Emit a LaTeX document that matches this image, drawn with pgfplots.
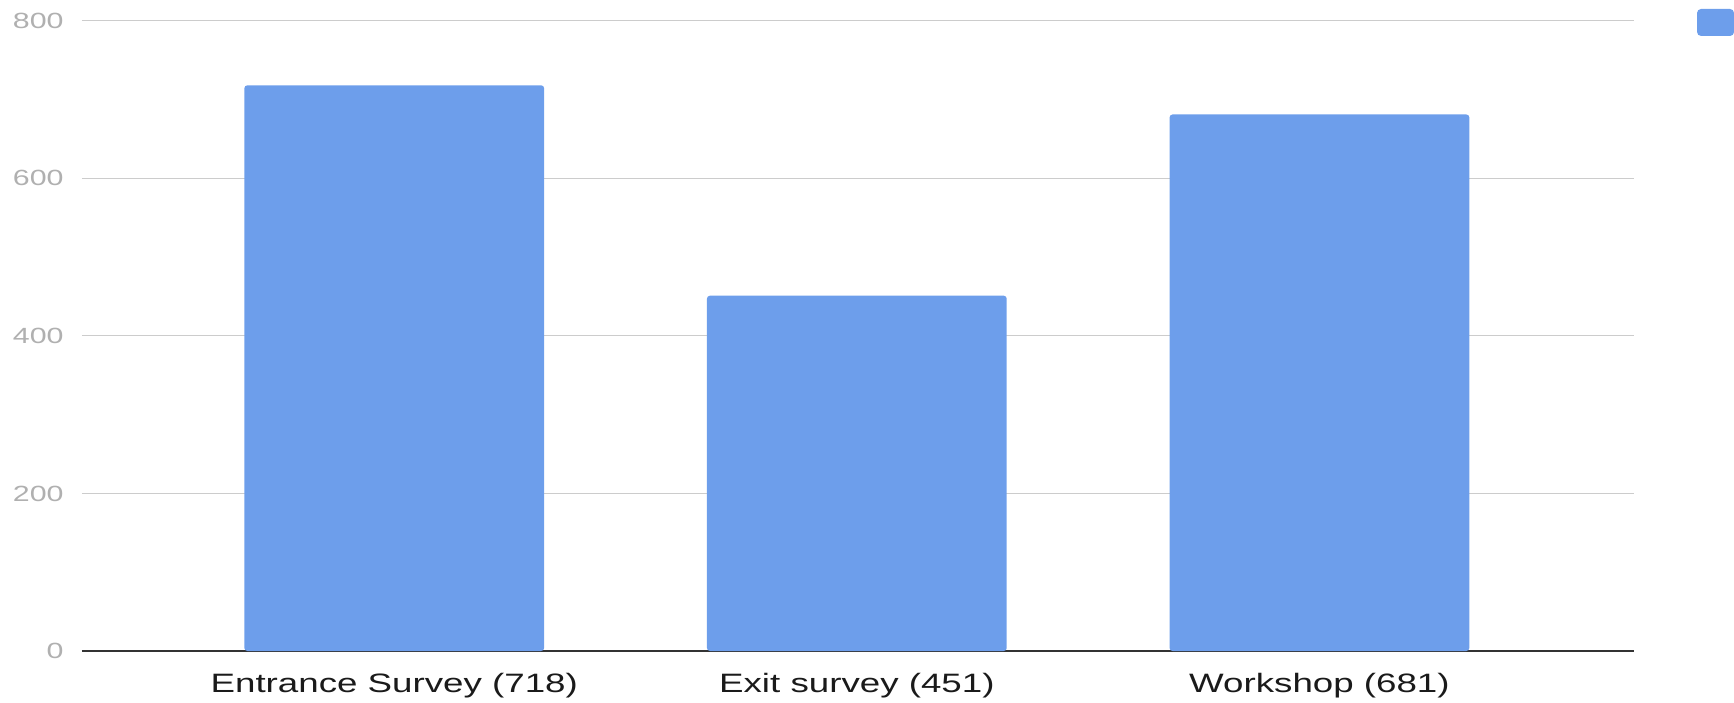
\documentclass[border=0pt]{standalone}
\usepackage{pgfplots}
\pgfplotsset{compat=1.18}
\usepackage{fontspec}
\setmainfont{Liberation Sans}[FakeStretch=1.38]
\definecolor{barblue}{HTML}{6D9EEB}
\definecolor{gridgray}{HTML}{CCCCCC}
\definecolor{basecol}{HTML}{333333}
\definecolor{labgray}{HTML}{B0B0B0}
\definecolor{xlab}{HTML}{1A1A1A}
\begin{document}
\begin{tikzpicture}
\useasboundingbox (-41pt,-25.5pt) rectangle (826pt,325.5pt);
\begin{axis}[
  at={(0,0)}, anchor=south west,
  scale only axis, width=776pt, height=315.15pt,
  xmin=-0.675, xmax=2.68, ymin=0, ymax=800,
  enlargelimits=false,
  ytick={0,200,400,600,800},
  xtick={0,1,2},
  xticklabels={Entrance Survey (718),Exit survey (451),Workshop (681)},
  ybar, bar width=0.648,
  axis x line*=bottom, axis y line*=left,
  axis line style={-},
  y axis line style={draw=none},
  x axis line style={color=basecol, line width=1pt},
  major tick length=0pt,
  ymajorgrids,
  grid style={color=gridgray, line width=0.6pt},
  /pgf/number format/assume math mode=true,
  yticklabel style={font=\fontsize{11}{13}\selectfont, text=labgray, anchor=east, inner sep=0pt, xshift=-9pt},
  xticklabel style={font=\fontsize{13.3}{15}\selectfont, text=xlab, anchor=base, inner sep=0pt, yshift=-20.5pt},
  legend style={at={(rel axis cs:1.0406,1.0186)}, anchor=north west, draw=none, fill=none,
    inner sep=0pt, outer sep=0pt, nodes={inner sep=0pt, outer sep=0pt}},
  legend image code/.code={\fill[barblue, rounded corners=2pt] (0pt,-6.75pt) rectangle (18.5pt,6.75pt);},
]
\addplot[fill=barblue, draw=none, rounded corners=1.5pt] coordinates {(0,718) (1,451) (2,681)};
\addlegendentry{}
\end{axis}
\end{tikzpicture}
\end{document}
